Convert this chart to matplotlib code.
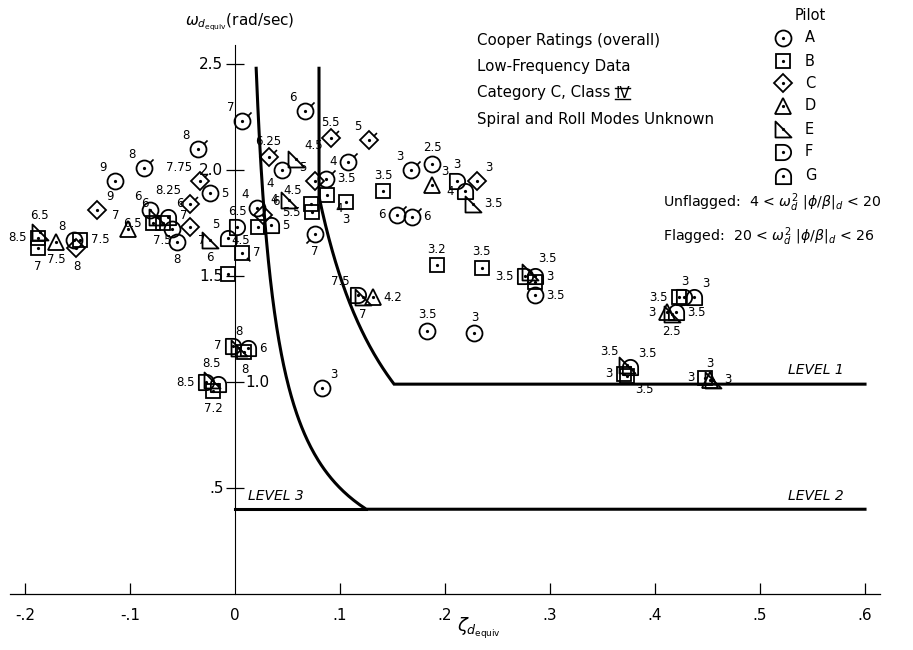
import numpy as np
import matplotlib
matplotlib.use('Agg')
import matplotlib.pyplot as plt
from matplotlib.path import Path

plt.rcParams['font.family'] = 'DejaVu Sans'
plt.rcParams['mathtext.fontset'] = 'dejavusans'

# ---- data: (zeta_d, omega_d, Cooper rating, flag) for each pilot
# flag: '' = unflagged, otherwise direction of the flag tick
pilot_A = [(0.007, 2.23, '7', 'ur'), (-0.035, 2.10, '8', 'ur'), (-0.087, 2.01, '8', 'ur'),
           (-0.114, 1.95, '9', ''), (-0.153, 1.67, '8', ''), (-0.081, 1.81, '6', ''),
           (-0.060, 1.72, '7', ''), (-0.055, 1.66, '8', ''), (-0.024, 1.89, '5', ''),
           (0.021, 1.82, '4', ''), (0.045, 2.00, '4', ''), (0.067, 2.28, '6', 'ur'),
           (0.087, 1.96, '3.5', 'ur'), (0.076, 1.70, '7', 'll'), (0.108, 2.04, '4', 'ur'),
           (0.154, 1.79, '6', 'ur'), (0.169, 1.78, '6', 'ur'), (0.168, 2.00, '3', 'ur'),
           (0.188, 2.03, '2.5', ''), (0.286, 1.41, '3.5', ''), (0.183, 1.24, '3.5', ''),
           (0.228, 1.23, '3', ''), (0.083, 0.97, '3', '')]
side_A = ['ul', 'ul', 'ul', 'ul', 'ul', 'ul', 'ur', 'b', 'r', 'ul', 'bl', 'ul',
          'r', 'b', 'l', 'l', 'r', 'ul', 'a', 'r', 'a', 'a', 'ur']

pilot_B = [(-0.188, 1.68, '8.5', ''), (-0.188, 1.63, '7', ''), (-0.148, 1.67, '7.5', ''),
           (-0.078, 1.75, '6.5', ''), (-0.069, 1.75, '7.5', ''), (-0.007, 1.51, '', ''),
           (0.007, 1.61, '7', 'lr'), (0.022, 1.73, '4.5', ''), (0.072, 1.84, '4.5', ''),
           (0.073, 1.80, '5.5', ''), (0.088, 1.88, '4', ''), (0.106, 1.85, '3', ''),
           (0.141, 1.90, '3.5', ''), (0.192, 1.55, '3.2', ''), (0.235, 1.54, '3.5', ''),
           (0.286, 1.47, '', ''), (0.009, 1.14, '8', ''), (-0.021, 0.96, '7.2', ''),
           (0.423, 1.40, '3.5', ''), (0.370, 1.04, '3', ''), (0.373, 1.03, '3.5', ''),
           (0.448, 1.02, '3', '')]
side_B = ['l', 'b', 'r', 'l', 'b', 'r', 'r', 'bl', 'ul', 'l', 'br', 'b',
          'a', 'a', 'a', 'r', 'b', 'b', 'l', 'l', 'br', 'l']

pilot_C = [(-0.131, 1.81, '9', ''), (-0.151, 1.63, '8', ''), (-0.043, 1.73, '7', ''),
           (-0.043, 1.84, '8.25', 'ur'), (-0.033, 1.95, '7.75', 'ur'), (0.027, 1.79, '6', ''),
           (0.032, 2.06, '6.25', 'ur'), (0.076, 1.95, '5', ''), (0.091, 2.15, '5.5', 'ur'),
           (0.128, 2.14, '5', 'ur'), (0.230, 1.95, '3', '')]
side_C = ['ur', 'b', 'br', 'ul', 'ul', 'ur', 'a', 'ul', 'a', 'ul', 'ur']

pilot_D = [(-0.102, 1.72, '7', ''), (-0.170, 1.66, '7.5', ''), (0.188, 1.93, '3', ''),
           (0.131, 1.40, '4.2', ''), (0.411, 1.33, '3', ''), (0.452, 1.01, '3', '')]
side_D = ['ul', 'b', 'ur', 'r', 'l', 'a']

pilot_E = [(-0.186, 1.71, '6.5', ''), (-0.074, 1.78, '6', ''), (-0.024, 1.67, '6', ''),
           (0.058, 2.05, '4.5', ''), (0.051, 1.86, '4', ''), (0.227, 1.84, '3.5', ''),
           (0.281, 1.52, '3.5', ''), (0.122, 1.40, '7', ''), (0.004, 1.16, '8', ''),
           (-0.022, 1.01, '8.5', ''), (0.416, 1.32, '2.5', ''), (0.373, 1.08, '3.5', ''),
           (0.455, 1.01, '3', '')]
side_E = ['a', 'ul', 'b', 'ur', 'l', 'r', 'ur', 'b', 'a', 'a', 'b', 'ul', 'r']

pilot_F = [(0.002, 1.73, '6.5', ''), (0.211, 1.95, '3', ''), (0.276, 1.50, '3.5', ''),
           (0.117, 1.41, '7.5', ''), (-0.002, 1.17, '7', ''), (-0.028, 1.00, '8.5', ''),
           (0.428, 1.40, '3', '')]
side_F = ['a', 'a', 'l', 'ul', 'l', 'l', 'a']

pilot_G = [(-0.064, 1.78, '6', ''), (-0.007, 1.68, '5', ''), (0.034, 1.74, '5', ''),
           (0.219, 1.90, '4', ''), (0.286, 1.50, '3', ''), (0.012, 1.16, '6', ''),
           (-0.016, 0.99, '', ''), (0.437, 1.40, '3', ''), (0.420, 1.33, '3.5', ''),
           (0.376, 1.07, '3.5', '')]
side_G = ['ur', 'ul', 'r', 'l', 'r', 'r', 'r', 'ur', 'r', 'ur']

# requirement boundaries: minimum zeta, minimum zeta*omega, minimum omega
level1 = (0.08, 0.15, 0.99)
level2 = (0.02, 0.05, 0.40)
omega_top = 2.48
zeta_end = 0.60

x_ticks = [-0.2, -0.1, 0.0, 0.1, 0.2, 0.3, 0.4, 0.5, 0.6]
x_labels = ['-.2', '-.1', '0', '.1', '.2', '.3', '.4', '.5', '.6']
y_ticks = [0.5, 1.0, 1.5, 2.0, 2.5]
y_labels = ['.5', '1.0', '1.5', '2.0', '2.5']

# ---- marker shapes
def arc(t0, t1, n=20):
    t = np.radians(np.linspace(t0, t1, n))
    return list(zip(np.cos(t), np.sin(t)))

mk_E = Path([(-1, -1), (-1, 1), (1, -1), (-1, -1)], closed=True)
vf = [(-1, -1), (-1, 1), (0, 1)] + arc(90, -90) + [(-1, -1)]
mk_F = Path(vf, closed=True)
vg = [(-1, -1), (1, -1), (1, 0)] + arc(0, 180) + [(-1, -1)]
mk_G = Path(vg, closed=True)

styles = {
    'A': ('o', 11.5), 'B': ('s', 10), 'C': ('D', 9.5), 'D': ('^', 12),
    'E': (mk_E, 11.5), 'F': (mk_F, 11), 'G': (mk_G, 11),
}
groups = [('A', pilot_A, side_A), ('B', pilot_B, side_B), ('C', pilot_C, side_C),
          ('D', pilot_D, side_D), ('E', pilot_E, side_E), ('F', pilot_F, side_F),
          ('G', pilot_G, side_G)]

def flag_marker(direction):
    ang = {'ur': 45, 'll': 225, 'lr': -45, 'ul': 135}[direction]
    a = np.radians(ang)
    c, s = np.cos(a), np.sin(a)
    return Path([(-2, -2), (2, 2), (0.9 * c, 0.9 * s), (1.6 * c, 1.6 * s)],
                [Path.MOVETO, Path.MOVETO, Path.MOVETO, Path.LINETO])

offsets = {
    'ul': (-6, 5, 'right', 'bottom'), 'ur': (6, 5, 'left', 'bottom'),
    'l': (-8, 0, 'right', 'center'), 'r': (8, 0, 'left', 'center'),
    'a': (0, 7, 'center', 'bottom'), 'b': (0, -8, 'center', 'top'),
    'bl': (-6, -5, 'right', 'top'), 'br': (6, -5, 'left', 'top'),
}

W, H = 913, 650
fig = plt.figure(figsize=(W / 100, H / 100), dpi=100)
ax = fig.add_axes([0, 0, 1, 1])
ax.set_xlim(-0.2238, 0.6457)
ax.set_ylim(-0.264, 2.802)
ax.axis('off')

# axes drawn by hand, like the original
ax.plot([-0.214, 0.614], [0, 0], color='k', lw=0.9)
ax.plot([0, 0], [0, 2.59], color='k', lw=0.8)
xt = [t for t in x_ticks if t != 0]
ax.plot(xt, [0] * len(xt), ls='none', marker=2, ms=8, mew=0.9, color='k')
ax.plot([0] * len(y_ticks), y_ticks, ls='none', marker='_', ms=13, mew=0.9, color='k')
for t, lab in zip(x_ticks, x_labels):
    ax.text(t, -0.065, lab, ha='center', va='top', fontsize=11)
for t, lab in zip(y_ticks, y_labels):
    if lab == '1.0':
        ax.text(0.010, t, lab, ha='left', va='center', fontsize=11)
    else:
        ax.text(-0.011, t, lab, ha='right', va='center', fontsize=11)

# requirement boundaries
for zmin, zw, wmin in (level1, level2):
    w = np.linspace(omega_top, wmin, 200)
    z = np.maximum(zmin, zw / w)
    ax.plot(np.r_[z, zeta_end], np.r_[w, wmin], color='k', lw=2.2, solid_joinstyle='miter')
ax.plot([0, level2[1] / level2[2]], [level2[2]] * 2, color='k', lw=2.2)

ax.text(0.58, 1.025, 'LEVEL 1', ha='right', va='bottom', fontsize=10, style='italic')
ax.text(0.58, 0.43, 'LEVEL 2', ha='right', va='bottom', fontsize=10, style='italic')
ax.text(0.012, 0.43, 'LEVEL 3', ha='left', va='bottom', fontsize=10, style='italic')

# data points
for name, rows, sides in groups:
    mk, ms = styles[name]
    z = [r[0] for r in rows]
    w = [r[1] for r in rows]
    ax.plot(z, w, ls='none', marker=mk, ms=ms, mfc='none', mec='k', mew=1.3)
    ax.plot(z, w, ls='none', marker='o', ms=1.3, color='k')
    for (zz, ww, rating, fl), sd in zip(rows, sides):
        if fl:
            ax.plot([zz], [ww], ls='none', marker=flag_marker(fl), ms=2 * ms,
                    mec='k', mew=1.2)
        if rating:
            dx, dy, ha, va = offsets[sd]
            ax.annotate(rating, (zz, ww), xytext=(dx, dy), textcoords='offset points',
                        ha=ha, va=va, fontsize=8.5)

# axis titles
fig.text(185 / W, 1 - 22 / H, r'$\omega_{d_{\mathrm{equiv}}}$(rad/sec)', fontsize=11,
         ha='left', va='center')
fig.text(457 / W, 1 - 628 / H, r'$\zeta_{d_{\mathrm{equiv}}}$', fontsize=13,
         ha='left', va='center')

# notes
notes = ['Cooper Ratings (overall)', 'Low-Frequency Data', 'Category C, Class',
         'Spiral and Roll Modes Unknown']
for i, s in enumerate(notes):
    t = fig.text(477 / W, 1 - (40 + 26.5 * i) / H, s, fontsize=10.8, ha='left', va='center')
    if i == 2:
        fig.canvas.draw()
        bb = t.get_window_extent()
        x0 = bb.x1 + 5
        tv = fig.text(x0 / W, 1 - (40 + 26.5 * i) / H, 'IV', fontsize=10.8,
                      ha='left', va='center')
        fig.canvas.draw()
        b2 = tv.get_window_extent()
        for yy in (b2.y0 + 2, b2.y1 - 2):
            fig.add_artist(plt.Line2D([b2.x0 / W, b2.x1 / W], [yy / H, yy / H],
                                      color='k', lw=1.0))

# legend of pilots
fig.text(810 / W, 1 - 15 / H, 'Pilot', fontsize=10.5, ha='center', va='center')
leg_rows = [38, 61, 83, 106, 129, 152, 176]
for (name, rows, sides), py in zip(groups, leg_rows):
    mk, ms = styles[name]
    ax.plot([783 / W], [1 - py / H], ls='none', marker=mk, ms=ms, mfc='none', mec='k',
            mew=1.3, transform=ax.transAxes)
    ax.plot([783 / W], [1 - py / H], ls='none', marker='o', ms=1.3, color='k',
            transform=ax.transAxes)
    fig.text(805 / W, 1 - py / H, name, fontsize=10.5, ha='left', va='center')

fig.text(663 / W, 1 - 203 / H, r'Unflagged:  4 < $\omega_d^2\ |\phi/\beta|_d$ < 20',
         fontsize=10.2, ha='left', va='center')
fig.text(663 / W, 1 - 237 / H, r'Flagged:  20 < $\omega_d^2\ |\phi/\beta|_d$ < 26',
         fontsize=10.2, ha='left', va='center')

fig.savefig('out.png', dpi=100)
